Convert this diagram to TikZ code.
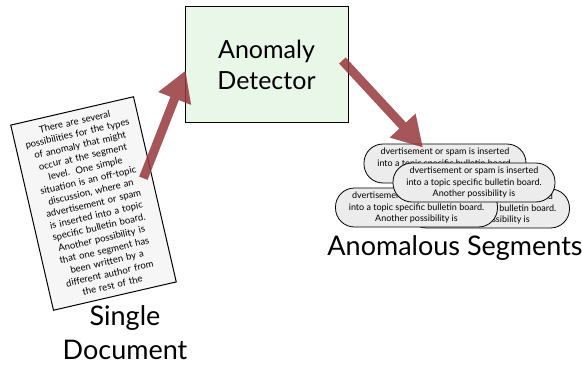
\documentclass[tikz,border=0pt]{standalone}
\usepackage{fontspec}
\setmainfont{Lato}
\usepackage{tikz}
\usetikzlibrary{arrows.meta, positioning, calc}
\definecolor{detgreen}{RGB}{232,247,232}
\definecolor{pagegray}{RGB}{246,246,246}
\definecolor{seggray}{RGB}{236,236,236}
\definecolor{arrowred}{RGB}{150,55,60}
\newcommand{\segtext}{dvertisement or spam is inserted\\into a topic specific bulletin board.\\Another possibility is}

\begin{document}
\begin{tikzpicture}[x=1pt, y=-1pt,
    detbox/.style={rectangle, draw=black, fill=detgreen, line width=0.8pt,
        minimum width=163pt, minimum height=116pt, align=center,
        font=\fontsize{25}{31}\selectfont},
    docpage/.style={rectangle, draw=black, fill=pagegray, line width=1pt,
        minimum width=126pt, minimum height=190pt, text width=114pt, inner sep=0pt,
        align=center, font=\fontsize{9.5}{12}\selectfont},
    seg/.style={rectangle, rounded corners=19pt, draw=black, fill=seggray,
        line width=0.8pt, minimum width=162pt, minimum height=39pt, inner sep=0pt,
        align=center, font=\fontsize{9}{11.5}\selectfont},
    lbl/.style={align=center, inner sep=0pt, font=\fontsize{27}{34}\selectfont},
    a/.style={-{Triangle[length=30pt, width=33pt]}, line width=9pt, arrowred},
    fade/.style={transparency group, opacity=0.85}
]
\useasboundingbox (0,0) rectangle (582,367);

% ===== DETECTOR (top) =====
\node[detbox] (det) at (266.5,64.5) {Anomaly\\Detector};

% ===== DOCUMENT (left) =====
\node[docpage, rotate=13] (doc) at (93.5,203.5)
    {There are several\\possibilities for the types\\of anomaly that might\\occur at the segment\\level.\ \ One simple\\situation is an off-topic\\discussion, where an\\advertisement or spam\\is inserted into a topic\\specific bulletin board.\\Another possibility is\\that one segment has\\been written by a\\different author from\\the rest of the};
\node[lbl] (doclbl) at (125,333) {Single\\Document};

% ===== SEGMENTS (right) =====
\node[seg] (segA) at (445,163.5) {\segtext};
\node[seg] (segC) at (488.5,208.5) {\segtext};
\node[seg] (segB) at (416.5,207.5) {\segtext};
\node[seg] (segD) at (474,182.5) {\segtext};
\node[lbl, anchor=base] (seglbl) at (455,255) {Anomalous Segments};

% ===== ARROWS =====
\coordinate (docout) at ([shift={(-12,-11)}]doc.east);
\begin{scope}[fade]
\draw[a] (docout) -- ([shift={(1,6)}]det.west);
\end{scope}
\begin{scope}[fade]
\draw[a] ([shift={(-6,-4)}]det.east) -- ([shift={(-22,4)}]segA.north);
\end{scope}
\end{tikzpicture}
\end{document}
